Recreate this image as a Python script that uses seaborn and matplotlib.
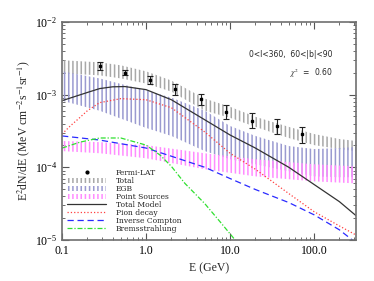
import numpy as np
import pandas as pd
import matplotlib
matplotlib.use('Agg')
import matplotlib.pyplot as plt
import seaborn as sns
from matplotlib.lines import Line2D
from matplotlib.ticker import FixedLocator, FixedFormatter, LogLocator, NullFormatter

# Fermi-LAT data points
e_data = [0.28, 0.56, 1.1, 2.2, 4.5, 9.0, 18.0, 36.0, 72.0]
flux_data = [2.45e-3, 1.99e-3, 1.59e-3, 1.19e-3, 8.8e-4, 5.8e-4, 4.35e-4, 3.7e-4, 2.87e-4]
flux_hi = [2.78e-3, 2.15e-3, 1.78e-3, 1.38e-3, 1.03e-3, 7.3e-4, 5.6e-4, 4.65e-4, 3.6e-4]
flux_lo = [2.15e-3, 1.84e-3, 1.42e-3, 1.0e-3, 7.3e-4, 4.65e-4, 3.48e-4, 2.87e-4, 2.15e-4]

# bands
e_band = [0.1, 0.28, 0.5, 1.0, 2.0, 5.0, 10.0, 20.0, 50.0, 100.0, 200.0, 316.0]
total_hi = [2.97e-3, 2.78e-3, 2.53e-3, 2.09e-3, 1.56e-3, 8.8e-4, 6.8e-4, 4.95e-4, 3.6e-4, 2.87e-4, 2.45e-4, 2.30e-4]
total_lo = [1.96e-3, 1.84e-3, 1.67e-3, 1.42e-3, 1.10e-3, 6.0e-4, 4.8e-4, 3.6e-4, 2.53e-4, 2.02e-4, 1.78e-4, 1.67e-4]

e_egb = [0.1, 0.28, 1.0, 2.0, 5.0, 10.0, 20.0, 50.0, 100.0, 200.0, 316.0]
egb_hi = [2.09e-3, 1.67e-3, 1.14e-3, 9.1e-4, 6.0e-4, 3.7e-4, 2.70e-4, 1.96e-4, 1.78e-4, 1.84e-4, 1.90e-4]
egb_lo = [8.25e-4, 6.0e-4, 3.48e-4, 2.70e-4, 1.67e-4, 1.29e-4, 1.10e-4, 8.8e-5, 7.5e-5, 7.3e-5, 7.3e-5]

e_ps = [0.1, 0.28, 1.0, 5.0, 20.0, 100.0, 316.0]
ps_hi = [2.30e-4, 2.22e-4, 2.02e-4, 1.56e-4, 1.29e-4, 1.10e-4, 1.03e-4]
ps_lo = [1.67e-4, 1.56e-4, 1.33e-4, 9.4e-5, 7.5e-5, 6.4e-5, 6.0e-5]

# model components
e_tot = [0.1, 0.2, 0.28, 0.4, 0.56, 1.0, 2.0, 5.0, 10.0, 20.0, 50.0, 100.0, 200.0, 316.0]
tot_model = [8.25e-4, 1.07e-3, 1.21e-3, 1.28e-3, 1.29e-3, 1.17e-3, 8.5e-4, 4.5e-4, 2.78e-4, 1.84e-4, 1.0e-4, 5.8e-5, 3.37e-5, 2.16e-5]

e_pion = [0.1, 0.125, 0.155, 0.2, 0.28, 0.5, 1.0, 2.0, 5.0, 10.0, 20.0, 50.0, 100.0, 200.0, 316.0]
pion = [2.87e-4, 3.7e-4, 4.6e-4, 6.0e-4, 7.75e-4, 8.8e-4, 8.5e-4, 6.6e-4, 3.06e-4, 1.56e-4, 9.4e-5, 4.35e-5, 2.45e-5, 1.56e-5, 1.17e-5]

e_ic = [0.1, 0.28, 1.0, 2.0, 5.0, 10.0, 20.0, 50.0, 100.0, 200.0, 316.0]
ic = [2.70e-4, 2.37e-4, 1.84e-4, 1.42e-4, 1.0e-4, 7.0e-5, 4.95e-5, 3.27e-5, 2.22e-5, 1.38e-5, 9.1e-6]

e_brem = [0.1, 0.164, 0.28, 0.5, 1.0, 1.47, 2.0, 2.9, 5.0, 7.6, 12.1]
brem = [1.84e-4, 2.22e-4, 2.53e-4, 2.53e-4, 2.02e-4, 1.47e-4, 1.03e-4, 6.0e-5, 3.16e-5, 1.78e-5, 9.3e-6]

sns.set_style('ticks')
plt.rcParams['font.family'] = ['Liberation Serif', 'DejaVu Serif']
plt.rcParams['mathtext.fontset'] = 'stix'
plt.rcParams['hatch.linewidth'] = 1.1

fig = plt.figure(figsize=(3.74, 2.81), dpi=100)
ax = fig.add_axes([0.166, 0.146, 0.786, 0.776])

ax.fill_between(e_band, total_lo, total_hi, facecolor='none', edgecolor='#a8a8a8',
                hatch='||||', linewidth=0, label='Total')
ax.fill_between(e_egb, egb_lo, egb_hi, facecolor='none', edgecolor='#9a9ad0',
                hatch='||||', linewidth=0, label='EGB')
ax.fill_between(e_ps, ps_lo, ps_hi, facecolor='none', edgecolor='#ff8cff',
                hatch='||||', linewidth=0, label='Point Sources')

sns.lineplot(x=e_tot, y=tot_model, ax=ax, color='#333333', lw=0.9, label='Total Model')
sns.lineplot(x=e_pion, y=pion, ax=ax, color='#ff4040', lw=0.9, linestyle=':', label='Pion decay')
sns.lineplot(x=e_ic, y=ic, ax=ax, color='#2a2aff', lw=0.9, linestyle=(0, (5, 3)), label='Inverse Compton')
sns.lineplot(x=e_brem, y=brem, ax=ax, color='#30e030', lw=0.9, linestyle=(0, (4, 1.5, 1, 1.5)), label='Bremsstrahlung')

yerr = [np.array(flux_data) - np.array(flux_lo), np.array(flux_hi) - np.array(flux_data)]
ax.errorbar(e_data, flux_data, yerr=yerr, fmt='s', ms=2, color='black', ecolor='#222222',
            elinewidth=0.8, capsize=2, capthick=0.8)

ax.set_xscale('log')
ax.set_yscale('log')
ax.set_xlim(0.1, 316)
ax.set_ylim(1e-5, 1e-2)

ax.xaxis.set_major_locator(FixedLocator([0.1, 1, 10, 100]))
ax.xaxis.set_major_formatter(FixedFormatter(['0.1', '1.0', '10.0', '100.0']))
ax.xaxis.set_minor_locator(LogLocator(base=10, subs=np.arange(2, 10)))
ax.xaxis.set_minor_formatter(NullFormatter())
ax.yaxis.set_minor_locator(LogLocator(base=10, subs=np.arange(2, 10)))
ax.yaxis.set_minor_formatter(NullFormatter())

ax.tick_params(which='both', direction='in', top=True, right=True, colors='#555555',
               labelcolor='black', labelsize=8.5)
ax.tick_params(which='major', length=5, width=0.8)
ax.tick_params(which='minor', length=2.5, width=0.6)
for sp in ax.spines.values():
    sp.set_color('#707070')
    sp.set_linewidth(1.2)

ax.set_xlabel('E (GeV)', fontsize=8.5, labelpad=4)
ax.set_ylabel(r'E$^2$dN/dE (MeV cm$^{-2}$s$^{-1}$sr$^{-1}$)', fontsize=8.5, labelpad=2)

ax.text(0.92, 0.85, '0<l<360,  60<|b|<90', transform=ax.transAxes, ha='right', va='center',
        fontsize=5.5, family=['DejaVu Sans'])
ax.text(0.92, 0.765, r'$\chi^2$  =  0.60', transform=ax.transAxes, ha='right', va='center',
        fontsize=5.5, family=['DejaVu Sans'])

handles, labels = ax.get_legend_handles_labels()
hmap = dict(zip(labels, handles))
hmap['Fermi-LAT'] = Line2D([], [], marker='o', ms=2, color='black', linestyle='none')
order = ['Fermi-LAT', 'Total', 'EGB', 'Point Sources', 'Total Model', 'Pion decay',
         'Inverse Compton', 'Bremsstrahlung']
ax.legend([hmap[k] for k in order], order, loc='upper left', bbox_to_anchor=(0.0, 0.35),
          frameon=False, prop={'family': 'DejaVu Serif', 'size': 5.5}, handlelength=5.0,
          labelspacing=0.0, handletextpad=1.3, borderaxespad=0.3)

fig.savefig('out.png', dpi=100)
